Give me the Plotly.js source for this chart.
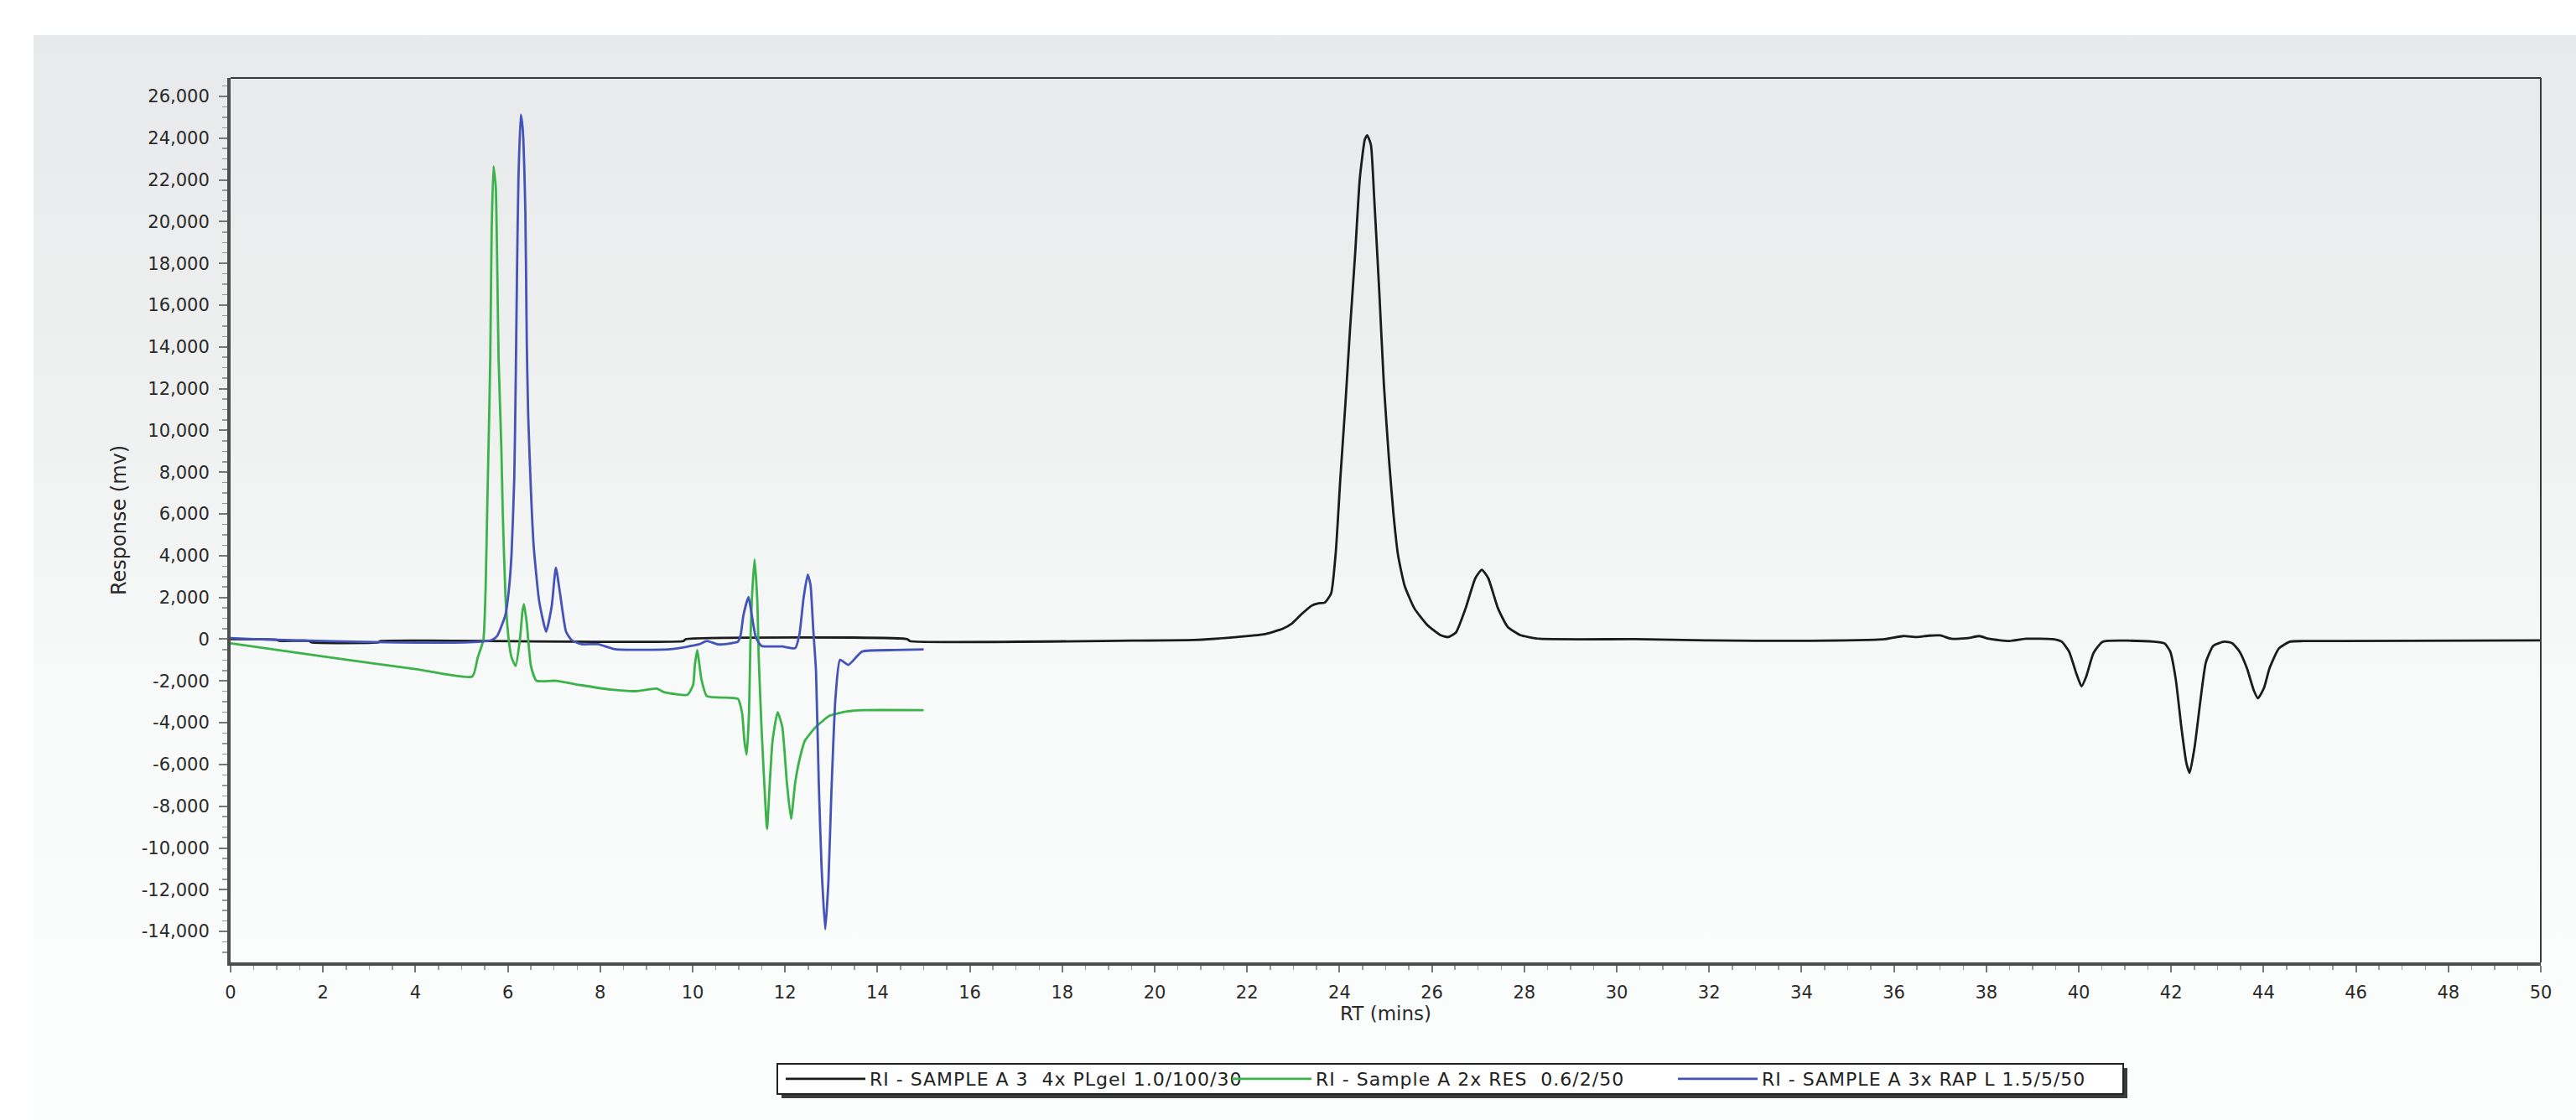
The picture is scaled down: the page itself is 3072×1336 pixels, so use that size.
<!DOCTYPE html>
<html>
<head>
<meta charset="utf-8">
<script src="https://cdn.plot.ly/plotly-3.0.1.min.js"></script>
<style>
  html, body { margin: 0; padding: 0; background: #ffffff; }
  #wrap { position: relative; width: 3072px; height: 1336px; background: #ffffff; overflow: hidden; }
  #panel { position: absolute; left: 40px; top: 42px; width: 3032px; height: 1294px;
           background: linear-gradient(to bottom, #e8e9ea 0%, #eff0f0 35%, #f8f9f9 60%, #fcfdfd 100%); }
  #chart { position: absolute; left: 0; top: 0; width: 3072px; height: 1336px; }
  #chart .legendtext { letter-spacing: 1px; }
</style>
</head>
<body>
<div id="wrap"><div id="panel"></div><div id="chart"></div></div>
<script>
// ---- Data ----
const seriesNames = [
  "RI - SAMPLE A 3  4x PLgel 1.0/100/30",
  "RI - Sample A 2x RES  0.6/2/50",
  "RI - SAMPLE A 3x RAP L 1.5/5/50"
];

const plgelRT = [0, 1.0, 1.05, 1.7, 1.75, 3.2, 3.25, 9.8, 9.85, 14.65, 14.7, 19.5, 20.86, 21.73, 22.36, 22.77, 22.98, 23.19, 23.40, 23.55, 23.68, 23.82, 23.92, 24.02, 24.13, 24.23, 24.34, 24.44, 24.55, 24.60, 24.68, 24.75, 24.86, 24.96, 25.07, 25.17, 25.27, 25.41, 25.62, 25.90, 26.18, 26.35, 26.52, 26.73, 26.94, 27.08, 27.22, 27.43, 27.64, 27.91, 28.33, 30.4, 32, 34, 35.8, 36.2, 36.5, 36.76, 37.0, 37.24, 37.6, 37.85, 38.05, 38.50, 38.86, 39.43, 39.63, 39.79, 39.95, 40.06, 40.16, 40.32, 40.52, 41.62, 41.86, 41.98, 42.10, 42.22, 42.33, 42.40, 42.51, 42.63, 42.75, 42.91, 43.15, 43.32, 43.48, 43.64, 43.79, 43.88, 44.01, 44.13, 44.33, 44.57, 44.86, 50];
const plgelResp = [0, -30, -80, -80, -150, -150, -90, -90, 0, 0, -90, -70, -40, 90, 230, 500, 770, 1220, 1610, 1720, 1750, 2200, 4170, 7750, 11330, 14910, 18490, 22070, 23950, 24130, 23680, 21180, 16700, 12230, 8650, 5960, 3990, 2560, 1480, 680, 200, 100, 320, 1480, 2920, 3330, 2920, 1480, 590, 200, 20, 0, -60, -80, 0, 150, 100, 170, 180, 20, 50, 150, 20, -90, 20, 0, -120, -590, -1660, -2260, -1800, -660, -120, -120, -210, -590, -1925, -4200, -5940, -6400, -5130, -3000, -1120, -320, -120, -190, -590, -1390, -2460, -2830, -2330, -1390, -450, -120, -90, -60];

const resRT = [0, 2.14, 4.0, 5.23, 5.35, 5.47, 5.52, 5.56, 5.59, 5.62, 5.65, 5.69, 5.71, 5.74, 5.77, 5.80, 5.86, 5.89, 5.95, 6.02, 6.08, 6.17, 6.26, 6.32, 6.35, 6.41, 6.50, 6.62, 7.04, 7.58, 8.25, 8.77, 9.22, 9.40, 9.89, 10.01, 10.05, 10.10, 10.14, 10.19, 10.31, 10.73, 10.98, 11.07, 11.12, 11.17, 11.22, 11.25, 11.28, 11.34, 11.40, 11.43, 11.49, 11.55, 11.61, 11.67, 11.73, 11.84, 11.94, 12.04, 12.13, 12.22, 12.31, 12.43, 12.67, 12.97, 13.34, 13.70, 15.0];
const resResp = [-200, -870, -1430, -1790, -870, -40, 2500, 6900, 10000, 13450, 19590, 22650, 22300, 21640, 17960, 13450, 9150, 6100, 2000, -40, -870, -1280, -40, 1380, 1680, 770, -1280, -1990, -1990, -2200, -2420, -2490, -2370, -2550, -2660, -2190, -1200, -520, -1100, -1925, -2730, -2800, -2860, -3530, -4860, -5530, -3530, -190, 1820, 3820, 1820, -850, -4200, -6870, -9080, -6870, -4860, -3500, -4200, -6870, -8610, -6870, -5800, -4860, -4200, -3660, -3460, -3400, -3400];

const rapRT = [0, 0.5, 1.0, 3.35, 5.17, 5.65, 5.77, 5.95, 6.02, 6.08, 6.14, 6.17, 6.20, 6.23, 6.28, 6.32, 6.38, 6.41, 6.44, 6.50, 6.56, 6.68, 6.83, 6.95, 7.04, 7.13, 7.26, 7.38, 7.59, 7.95, 8.32, 9.52, 10.13, 10.31, 10.55, 10.98, 11.04, 11.10, 11.21, 11.28, 11.37, 11.49, 11.94, 12.22, 12.31, 12.40, 12.49, 12.55, 12.61, 12.67, 12.73, 12.79, 12.87, 12.94, 13.00, 13.09, 13.19, 13.37, 13.67, 14.37, 15.0];
const rapResp = [50, 0, -30, -150, -150, -40, 160, 1180, 2300, 4050, 7740, 12230, 17760, 22050, 25120, 24500, 20410, 14270, 10790, 7110, 4450, 1800, 360, 1590, 3430, 2200, 360, -40, -240, -240, -480, -480, -250, -90, -250, -120, 210, 1150, 2020, 1150, 80, -320, -350, -430, 210, 1950, 3090, 2620, 480, -1520, -6870, -10880, -13900, -11550, -7540, -2860, -990, -1230, -590, -520, -490];

const xTickVals = [0, 2, 4, 6, 8, 10, 12, 14, 16, 18, 20, 22, 24, 26, 28, 30, 32, 34, 36, 38, 40, 42, 44, 46, 48, 50];
const xTickLabels = ["0", "2", "4", "6", "8", "10", "12", "14", "16", "18", "20", "22", "24", "26", "28", "30", "32", "34", "36", "38", "40", "42", "44", "46", "48", "50"];
const yTickVals = [26000, 24000, 22000, 20000, 18000, 16000, 14000, 12000, 10000, 8000, 6000, 4000, 2000, 0, -2000, -4000, -6000, -8000, -10000, -12000, -14000];
const yTickLabels = ["26,000", "24,000", "22,000", "20,000", "18,000", "16,000", "14,000", "12,000", "10,000", "8,000", "6,000", "4,000", "2,000", "0", "-2,000", "-4,000", "-6,000", "-8,000", "-10,000", "-12,000", "-14,000"];

const seriesColors = ["#1c1c1c", "#3cb34a", "#4353b8"];

// ---- Layout geometry (pixels) ----
const W = 3072, H = 1336;
const M = { l: 275, r: 42, t: 93, b: 188 };
const pw = W - M.l - M.r, ph = H - M.t - M.b;
const px2x = p => (p - M.l) / pw;
const py2y = p => (H - M.b - p) / ph;

const tickFont = { family: "DejaVu Sans, Verdana, sans-serif", size: 21, color: "#2a2a2a" };

const traces = [
  { x: plgelRT, y: plgelResp, name: seriesNames[0] },
  { x: resRT, y: resResp, name: seriesNames[1] },
  { x: rapRT, y: rapResp, name: seriesNames[2] }
].map((t, i) => Object.assign(t, {
  type: "scatter", mode: "lines",
  line: { color: seriesColors[i], width: 2.8, shape: "spline", smoothing: 0.5 },
  hoverinfo: "skip"
}));

// legend box (drawn as shapes, with shadow)
const lgL = 927, lgR = 2532, lgT = 1269, lgB = 1305;
const shapes = [
  { type: "line", xref: "paper", yref: "paper", x0: 0, x1: 1, y0: 1, y1: 1, line: { color: "#3a3a3a", width: 2 } },
  { type: "line", xref: "paper", yref: "paper", x0: 1, x1: 1, y0: 0, y1: 1, line: { color: "#3a3a3a", width: 2 } },
  { type: "rect", xref: "paper", yref: "paper", x0: px2x(lgL + 5), x1: px2x(lgR + 5), y0: py2y(lgB + 5), y1: py2y(lgT + 5),
    line: { width: 0 }, fillcolor: "#3a3a3a", layer: "above" },
  { type: "rect", xref: "paper", yref: "paper", x0: px2x(lgL), x1: px2x(lgR), y0: py2y(lgB), y1: py2y(lgT),
    line: { color: "#222222", width: 2 }, fillcolor: "#ffffff", layer: "above" }
];

const layout = {
  width: W, height: H,
  margin: M,
  paper_bgcolor: "rgba(0,0,0,0)",
  plot_bgcolor: "rgba(0,0,0,0)",
  showlegend: true,
  xaxis: {
    range: [0, 50],
    tickmode: "array", tickvals: xTickVals, ticktext: xTickLabels,
    ticks: "outside", ticklen: 8, tickwidth: 2, tickcolor: "#777",
    ticklabelstandoff: 6,
    minor: { tickmode: "linear", tick0: 0, dtick: 0.5, ticks: "outside", ticklen: 5, tickwidth: 1.5, tickcolor: "#999" },
    showline: true, linewidth: 4, linecolor: "#4e4e4e",
    showgrid: false, zeroline: false,
    tickfont: tickFont,
    title: { text: "RT (mins)", font: { family: "DejaVu Sans, Verdana, sans-serif", size: 23, color: "#2a2a2a" }, standoff: 5 }
  },
  yaxis: {
    range: [-15480, 26880],
    tickmode: "array", tickvals: yTickVals, ticktext: yTickLabels,
    ticks: "outside", ticklen: 10, tickwidth: 2, tickcolor: "#777",
    ticklabelstandoff: 7,
    minor: { tickmode: "linear", tick0: 0, dtick: 500, ticks: "outside", ticklen: 6, tickwidth: 1.5, tickcolor: "#999" },
    showline: true, linewidth: 4, linecolor: "#4e4e4e",
    showgrid: false, zeroline: false,
    tickfont: tickFont,
    title: { text: "Response (mv)", font: { family: "DejaVu Sans, Verdana, sans-serif", size: 24, color: "#2a2a2a" }, standoff: 12 }
  },
  legend: {
    orientation: "h",
    xref: "container", yref: "container",
    x: 932 / W, xanchor: "left",
    y: 1 - 1287 / H, yanchor: "middle",
    bgcolor: "rgba(0,0,0,0)", borderwidth: 0,
    font: { family: "DejaVu Sans, Verdana, sans-serif", size: 22, color: "#222" },
    itemwidth: 95,
    entrywidth: 422,
    tracegroupgap: 0,
    itemclick: false, itemdoubleclick: false
  },
  shapes: shapes
};

Plotly.newPlot("chart", traces, layout, { staticPlot: true, displayModeBar: false });
</script>
</body>
</html>
